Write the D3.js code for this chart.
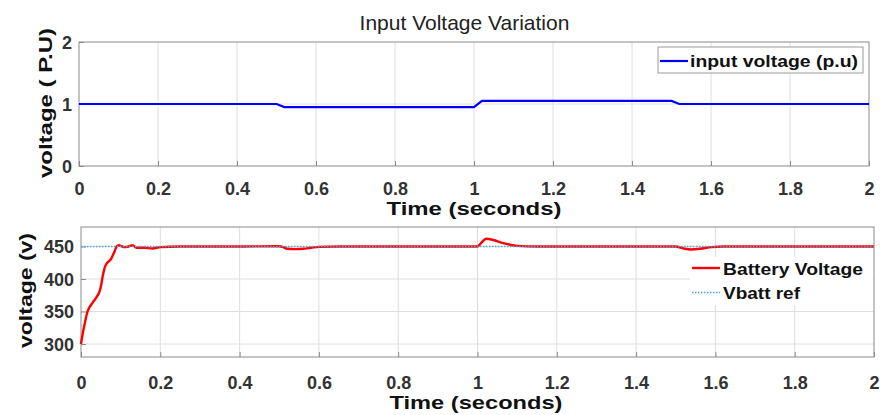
<!DOCTYPE html>
<html><head><meta charset="utf-8">
<script src="https://cdn.jsdelivr.net/npm/d3@7"></script>
<style>body{margin:0;background:#fff}svg{display:block;font-family:"Liberation Sans",Arial,sans-serif}</style>
</head><body><svg id="c" width="880" height="415"></svg>
<script>
const xTicks = [0,0.2,0.4,0.6,0.8,1,1.2,1.4,1.6,1.8,2];
const xTickLabels = ["0","0.2","0.4","0.6","0.8","1","1.2","1.4","1.6","1.8","2"];
const topYTicks = [0,1,2];
const topYTickLabels = ["0","1","2"];
const botYTicks = [300,350,400,450];
const botYTickLabels = ["300","350","400","450"];

const inputTime = [0, 0.5, 0.52, 1.0, 1.02, 1.5, 1.52, 2];
const inputVolt = [1, 1, 0.95, 0.95, 1.05, 1.05, 1, 1];

const battTime = [0,0.005,0.01,0.015,0.02,0.03,0.04,0.045,0.05,0.055,0.06,0.065,0.07,0.075,0.08,0.085,0.09,0.095,0.1,0.11,0.12,0.13,0.14,0.15,0.16,0.18,0.2,0.25,0.3,0.4,0.5,0.51,0.52,0.54,0.56,0.58,0.6,0.65,1.0,1.01,1.022,1.04,1.06,1.08,1.1,1.15,1.5,1.52,1.54,1.56,1.59,1.62,2.0];
const battVolt = [300,318,333,347,355,364,373,378,388,405,418,424,427,430,436,443,450,452,451,449,450,452,448,448,448,447,449,450,450,450,450.5,449,446.5,446,446.5,448,449.5,450,450,456,462,460,456,453,451,450,450,447,445.5,446.5,449,450,450];
const refTime = [0, 2];
const refVolt = [450, 450];

const svg = d3.select("#c");
const gridC = "#dedede", axC = "#8a8a8a", tickC = "#333";

function panel(o){
  const x = d3.scaleLinear().domain([0,2]).range([o.x0,o.x1]);
  const y = d3.scaleLinear().domain(o.yd).range([o.y1,o.y0]);
  const g = svg.append("g");
  g.selectAll(".vg").data(xTicks.slice(1,-1)).join("line")
    .attr("x1",d=>x(d)).attr("x2",d=>x(d)).attr("y1",o.y0).attr("y2",o.y1)
    .attr("stroke",gridC).attr("stroke-width",1);
  g.selectAll(".hg").data(o.yt.filter(d=>y(d)>o.y0+1&&y(d)<o.y1-1)).join("line")
    .attr("x1",o.x0).attr("x2",o.x1).attr("y1",d=>y(d)).attr("y2",d=>y(d))
    .attr("stroke",gridC).attr("stroke-width",1);
  const xa = g.append("g").attr("transform",`translate(0,${o.y1})`)
    .call(d3.axisBottom(x).tickValues(xTicks).tickFormat((d,i)=>xTickLabels[i]).tickSizeInner(-5).tickSizeOuter(0));
  const ya = g.append("g").attr("transform",`translate(${o.x0},0)`)
    .call(d3.axisLeft(y).tickValues(o.yt).tickFormat((d,i)=>o.yl[i]).tickSizeInner(-5).tickSizeOuter(0).tickPadding(7));
  [xa,ya].forEach(a=>{
    a.select(".domain").remove();
    a.selectAll(".tick line").attr("stroke",axC);
    a.selectAll("text").attr("fill",tickC).attr("font-size",18).attr("font-weight","bold").attr("font-family",'"Liberation Sans",Arial,sans-serif');
  });
  xa.selectAll("text").attr("dy",null).attr("y", o.tickBase - o.y1);
  ya.selectAll("text").attr("dy","0.36em");
  g.append("rect").attr("x",o.x0).attr("y",o.y0).attr("width",o.x1-o.x0).attr("height",o.y1-o.y0)
    .attr("fill","none").attr("stroke",axC).attr("stroke-width",1);
  return {x,y,g};
}

const P1 = panel({x0:79,x1:869,y0:42,y1:166,yd:[0,2],yt:topYTicks,yl:topYTickLabels,tickBase:195});
const P2 = panel({x0:81,x1:874,y0:227,y1:357,yd:[280,480],yt:botYTicks,yl:botYTickLabels,tickBase:389});

const l1 = d3.line().x((d,i)=>P1.x(inputTime[i])).y(d=>P1.y(d));
P1.g.append("path").datum(inputVolt).attr("d",l1).attr("fill","none").attr("stroke","#0000ff").attr("stroke-width",2.2);

const l2 = d3.line().x((d,i)=>P2.x(battTime[i])).y(d=>P2.y(d)).curve(d3.curveMonotoneX);
P2.g.append("path").datum(battVolt).attr("d",l2).attr("fill","none").attr("stroke","#ff0000").attr("stroke-width",2.4);
const l3 = d3.line().x((d,i)=>P2.x(refTime[i])).y(d=>P2.y(d));
P2.g.append("path").datum(refVolt).attr("d",l3).attr("fill","none").attr("stroke","#4fa3e0").attr("stroke-width",1.4).attr("stroke-dasharray","1.5,1.5");

const lg1 = svg.append("g");
lg1.append("rect").attr("x",658).attr("y",47).attr("width",205).attr("height",26).attr("fill","#fff").attr("stroke","#9a9a9a");
lg1.append("line").attr("x1",660).attr("x2",688).attr("y1",61).attr("y2",61).attr("stroke","#0000ff").attr("stroke-width",2.2);
lg1.append("text").attr("x",690).attr("y",67).attr("font-size",17).attr("font-weight","bold").attr("fill","#111")
  .attr("textLength",168).attr("lengthAdjust","spacingAndGlyphs").text("input voltage (p.u)");

const lg2 = svg.append("g");
lg2.append("rect").attr("x",690).attr("y",257).attr("width",183).attr("height",48).attr("fill","#fff");
lg2.append("line").attr("x1",692).attr("x2",720).attr("y1",268).attr("y2",268).attr("stroke","#ff0000").attr("stroke-width",2.4);
lg2.append("text").attr("x",723).attr("y",274.5).attr("font-size",17).attr("font-weight","bold").attr("fill","#111")
  .attr("textLength",140).attr("lengthAdjust","spacingAndGlyphs").text("Battery Voltage");
lg2.append("line").attr("x1",692).attr("x2",720).attr("y1",292.5).attr("y2",292.5).attr("stroke","#4fa3e0").attr("stroke-width",1.4).attr("stroke-dasharray","1.5,1.5");
lg2.append("text").attr("x",723).attr("y",299).attr("font-size",17).attr("font-weight","bold").attr("fill","#111")
  .attr("textLength",77).attr("lengthAdjust","spacingAndGlyphs").text("Vbatt ref");

svg.append("text").attr("x",464.5).attr("y",30).attr("text-anchor","middle").attr("font-size",21).attr("fill","#222").text("Input Voltage Variation");
svg.append("text").attr("x",474).attr("y",215).attr("text-anchor","middle").attr("font-size",19).attr("font-weight","bold").attr("fill","#111")
  .attr("textLength",175).attr("lengthAdjust","spacingAndGlyphs").text("Time (seconds)");
svg.append("text").attr("x",476).attr("y",409).attr("text-anchor","middle").attr("font-size",19).attr("font-weight","bold").attr("fill","#111")
  .attr("textLength",173).attr("lengthAdjust","spacingAndGlyphs").text("Time (seconds)");
svg.append("text").attr("transform","translate(52,103) rotate(-90)").attr("text-anchor","middle").attr("font-size",19).attr("font-weight","bold").attr("fill","#111")
  .attr("textLength",150).attr("lengthAdjust","spacingAndGlyphs").text("voltage ( P.U)");
svg.append("text").attr("transform","translate(32,290.5) rotate(-90)").attr("text-anchor","middle").attr("font-size",19).attr("font-weight","bold").attr("fill","#111")
  .attr("textLength",115).attr("lengthAdjust","spacingAndGlyphs").text("voltage (v)");
</script></body></html>
